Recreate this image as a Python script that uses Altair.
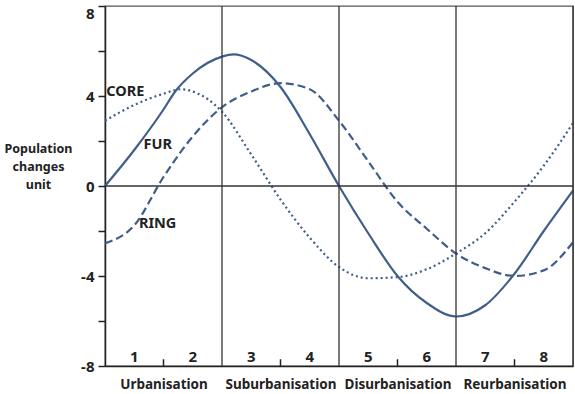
import altair as alt
import pandas as pd

# --- data ---
fur_x = [0, 0.5, 1.0, 1.2, 1.5, 2.0, 2.2, 2.5, 3.0, 3.5, 4.0, 4.5, 5.0, 5.5, 6.0, 6.5, 7.0, 7.5, 8.0]
fur_y = [0, 1.6, 3.4, 4.2, 5.0, 5.75, 5.85, 5.6, 4.4, 2.3, 0, -2.1, -4.0, -5.2, -5.8, -5.3, -3.9, -2.0, -0.2]

core_x = [0, 0.5, 1.0, 1.3, 1.5, 2.0, 2.5, 3.0, 3.5, 4.0, 4.5, 5.0, 5.5, 6.0, 6.5, 7.0, 7.5, 8.0]
core_y = [2.9, 3.6, 4.1, 4.3, 4.2, 3.3, 1.4, -0.6, -2.3, -3.6, -4.1, -4.05, -3.7, -3.0, -2.1, -0.7, 0.9, 2.8]

ring_x = [0, 0.5, 1.0, 1.5, 2.0, 2.5, 3.0, 3.5, 4.0, 4.5, 5.0, 5.5, 6.0, 6.5, 7.0, 7.5, 8.0]
ring_y = [-2.55, -1.75, 0.4, 2.2, 3.5, 4.2, 4.57, 4.3, 2.9, 1.1, -0.7, -1.9, -3.0, -3.65, -4.0, -3.75, -2.5]

series_labels = ["CORE", "FUR", "RING"]
label_x = [0.02, 0.66, 0.58]
label_y = [4.2, 1.82, -1.7]

phase_names = ["Urbanisation", "Suburbanisation", "Disurbanisation", "Reurbanisation"]
phase_centers = [1, 3, 5, 7]
phase_bounds = [2, 4, 6, 8]

step_numbers = ["1", "2", "3", "4", "5", "6", "7", "8"]
step_x = [0.5, 1.5, 2.5, 3.5, 4.5, 5.5, 6.5, 7.5]

y_ticks = [-8, -6, -4, -2, 0, 2, 4, 6, 8]

LINE = "#3f5f8a"
FONT = "Noto Sans"
INK = "#222"

def df_line(xs, ys, name):
    return pd.DataFrame({"x": xs, "y": ys, "s": name})

xs = alt.Scale(domain=[0, 8], nice=False, zero=False)
ys = alt.Scale(domain=[-8, 8], nice=False)

phase_map = "{" + ",".join(f"'{c}':'{n}'" for c, n in zip(phase_centers, phase_names)) + "}"

x_axis = alt.Axis(values=phase_centers, labelExpr=f"{phase_map}[datum.value]", ticks=False,
                  grid=False, domainColor=INK, domainWidth=1.5, labelFont=FONT,
                  labelFontWeight="bold", labelFontSize=13.5, labelColor=INK, labelPadding=11,
                  labelFlush=False, title=None)
y_axis = alt.Axis(values=y_ticks,
                  labelExpr="datum.value % 4 == 0 ? '' + datum.value : ''",
                  labelBaseline={"condition": {"test": "datum.value == 8", "value": "top"},
                                 "value": "middle"},
                  grid=False, domainColor=INK, domainWidth=1.5, tickColor=INK,
                  tickSize=7, tickWidth=1.5, labelFont=FONT, labelFontWeight="bold",
                  labelFontSize=15, labelColor=INK, labelPadding=4,
                  title=["Population", "changes", "unit"], titleAngle=0, titleAlign="center",
                  titleBaseline="top", titleX=-67, titleY=136, titleFont=FONT,
                  titleFontSize=12.5, titleFontWeight="bold", titleColor=INK, titleLineHeight=18)

base_x = alt.X("x:Q", scale=xs, axis=x_axis)
base_y = alt.Y("y:Q", scale=ys, axis=y_axis)

fur = alt.Chart(df_line(fur_x, fur_y, "FUR")).mark_line(
    interpolate="monotone", color=LINE, strokeWidth=2.2).encode(x=base_x, y=base_y)
core = alt.Chart(df_line(core_x, core_y, "CORE")).mark_line(
    interpolate="monotone", color=LINE, strokeWidth=2.2, strokeDash=[2, 3]).encode(x="x:Q", y="y:Q")
ring = alt.Chart(df_line(ring_x, ring_y, "RING")).mark_line(
    interpolate="monotone", color=LINE, strokeWidth=2.2, strokeDash=[8, 4]).encode(x="x:Q", y="y:Q")

vrules = alt.Chart(pd.DataFrame({"x": phase_bounds})).mark_rule(
    color="#333", strokeWidth=1.3).encode(x="x:Q")
zero = alt.Chart(pd.DataFrame({"y": [0]})).mark_rule(
    color="#333", strokeWidth=1.5).encode(y="y:Q")
small_ticks = alt.Chart(pd.DataFrame({"x": phase_centers, "y": [-8] * 4, "y2": [-7.7] * 4})).mark_rule(
    color=INK, strokeWidth=1.5).encode(x="x:Q", y="y:Q", y2="y2:Q")

labels = alt.Chart(pd.DataFrame({"x": label_x, "y": label_y, "t": series_labels})).mark_text(
    font=FONT, fontWeight="bold", fontSize=14.5, color=INK, align="left", baseline="middle"
).encode(x="x:Q", y="y:Q", text="t:N")

nums = alt.Chart(pd.DataFrame({"x": step_x, "y": [-7.62] * 8, "t": step_numbers})).mark_text(
    font=FONT, fontWeight="bold", fontSize=15, color=INK, align="center", baseline="middle"
).encode(x="x:Q", y="y:Q", text="t:N")

chart = alt.layer(fur, core, ring, vrules, zero, small_ticks, labels, nums).properties(
    width=468, height=360,
    autosize=alt.AutoSizeParams(type="none"),
    padding={"left": 105, "top": 6, "right": 2, "bottom": 28},
    background="white",
).configure_view(stroke="#555", strokeWidth=1.3)

chart.save("out.html", embed_options={"renderer": "svg", "actions": False})
